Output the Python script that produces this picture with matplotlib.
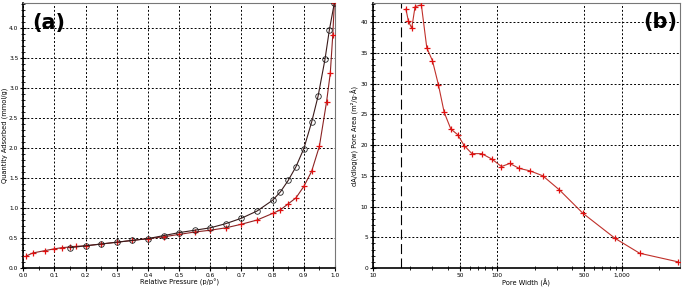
import matplotlib.pyplot as plt
import numpy as np
from matplotlib.ticker import MultipleLocator, FixedLocator, FuncFormatter, LogLocator, NullFormatter

# Panel (a): isotherm
ads_p = [0.01, 0.03, 0.07, 0.10, 0.125, 0.15, 0.17, 0.20, 0.25, 0.30, 0.35, 0.40, 0.45,
         0.50, 0.55, 0.60, 0.65, 0.70, 0.75, 0.80, 0.825, 0.85, 0.875, 0.90, 0.925,
         0.95, 0.973, 0.985, 0.993, 0.998]
ads_q = [0.20, 0.25, 0.29, 0.32, 0.34, 0.35, 0.36, 0.37, 0.40, 0.43, 0.46, 0.49, 0.52,
         0.56, 0.60, 0.63, 0.67, 0.73, 0.80, 0.91, 0.97, 1.07, 1.17, 1.36, 1.61,
         2.03, 2.77, 3.25, 3.89, 4.42]
des_p = [0.998, 0.982, 0.968, 0.946, 0.925, 0.90, 0.875, 0.85, 0.825, 0.80, 0.75, 0.70,
         0.65, 0.60, 0.55, 0.50, 0.45, 0.40, 0.35, 0.30, 0.25, 0.20, 0.15]
des_q = [4.42, 3.97, 3.48, 2.87, 2.43, 1.99, 1.69, 1.46, 1.27, 1.13, 0.95, 0.83,
         0.74, 0.67, 0.63, 0.59, 0.54, 0.49, 0.46, 0.43, 0.40, 0.37, 0.34]

# Panel (b): pore area distribution
width = [18.4, 19.3, 20.5, 21.8, 24.5, 27.1, 30.1, 33.6, 37.4, 42.3, 47.9, 54.2, 62.5,
         74.8, 90.7, 108, 126, 150, 183, 232, 316, 488, 889, 1396, 2846]
area = [42.1, 40.1, 39.0, 42.5, 42.8, 35.8, 33.7, 29.8, 25.3, 22.6, 21.7, 19.9, 18.6,
        18.6, 17.7, 16.5, 17.0, 16.2, 15.8, 15.0, 12.7, 8.9, 4.8, 2.4, 1.0]
w_min = 16.8

line_c = '#8b2323'
red = '#e01010'
fs = 4.2

fig = plt.figure(figsize=(6.85, 2.89), dpi=100)
ax1 = fig.add_axes([0.034, 0.0727, 0.455, 0.917])
ax2 = fig.add_axes([0.5445, 0.0727, 0.4482, 0.917])


def style(ax):
    for s in ['left', 'bottom']:
        ax.spines[s].set_linewidth(1.2)
        ax.spines[s].set_color('black')
    for s in ['top', 'right']:
        ax.spines[s].set_linewidth(0.8)
        ax.spines[s].set_color('#777777')
    ax.grid(True, which='major', color='black', linestyle=(0, (2, 2)), linewidth=0.7)
    ax.tick_params(which='major', direction='inout', length=4, width=0.8, labelsize=fs, pad=1.5)
    ax.tick_params(which='minor', direction='inout', length=2.5, width=0.6)
    ax.tick_params(top=False, right=False)


# (a)
ax1.plot(ads_p, ads_q, color=line_c, lw=0.8, marker='+', ms=5, mec=red, mew=0.9, zorder=3)
ax1.plot(des_p, des_q, color='#3a1a1a', lw=0.8, marker='o', ms=4, mfc='none', mec='#222222',
         mew=0.6, zorder=3)
ax1.set_xlim(0, 1.0)
ax1.set_ylim(0, 4.42)
ax1.xaxis.set_major_locator(MultipleLocator(0.1))
ax1.xaxis.set_minor_locator(MultipleLocator(0.05))
ax1.yaxis.set_major_locator(MultipleLocator(0.5))
ax1.yaxis.set_minor_locator(MultipleLocator(0.1))
ax1.xaxis.set_major_formatter(FuncFormatter(lambda v, p: f'{v:.1f}'))
ax1.yaxis.set_major_formatter(FuncFormatter(lambda v, p: f'{v:.1f}'))
style(ax1)
ax1.set_xlabel('Relative Pressure (p/p°)', fontsize=fs + 0.6, labelpad=0.5)
ax1.set_ylabel('Quantity Adsorbed (mmol/g)', fontsize=fs + 0.6, labelpad=1)
ax1.text(0.028, 0.925, '(a)', transform=ax1.transAxes, fontsize=15, fontweight='bold',
         va='center', ha='left')

# (b)
ax2.plot(width, area, color='#c0302a', lw=0.8, marker='+', ms=5, mec=red, mew=0.9, zorder=3)
ax2.axvline(w_min, color='black', lw=0.8, linestyle=(0, (9, 4)), zorder=2)
ax2.set_xscale('log')
ax2.set_xlim(10, 2950)
ax2.set_ylim(0, 43.1)
ax2.xaxis.set_major_locator(FixedLocator([10, 50, 100, 500, 1000]))
ax2.xaxis.set_minor_locator(LogLocator(base=10, subs=np.arange(2, 10)))
ax2.xaxis.set_minor_formatter(NullFormatter())
ax2.xaxis.set_major_formatter(FuncFormatter(lambda v, p: f'{int(round(v)):,}'))
ax2.yaxis.set_major_locator(MultipleLocator(5))
ax2.yaxis.set_minor_locator(MultipleLocator(1))
style(ax2)
ax2.set_xlabel('Pore Width (Å)', fontsize=fs + 0.6, labelpad=0.5)
ax2.set_ylabel('dA/dlog(w) Pore Area (m²/g·Å)', fontsize=fs + 0.6, labelpad=1)
ax2.text(0.88, 0.93, '(b)', transform=ax2.transAxes, fontsize=15, fontweight='bold',
         va='center', ha='left')

fig.savefig('out.png', dpi=100)
